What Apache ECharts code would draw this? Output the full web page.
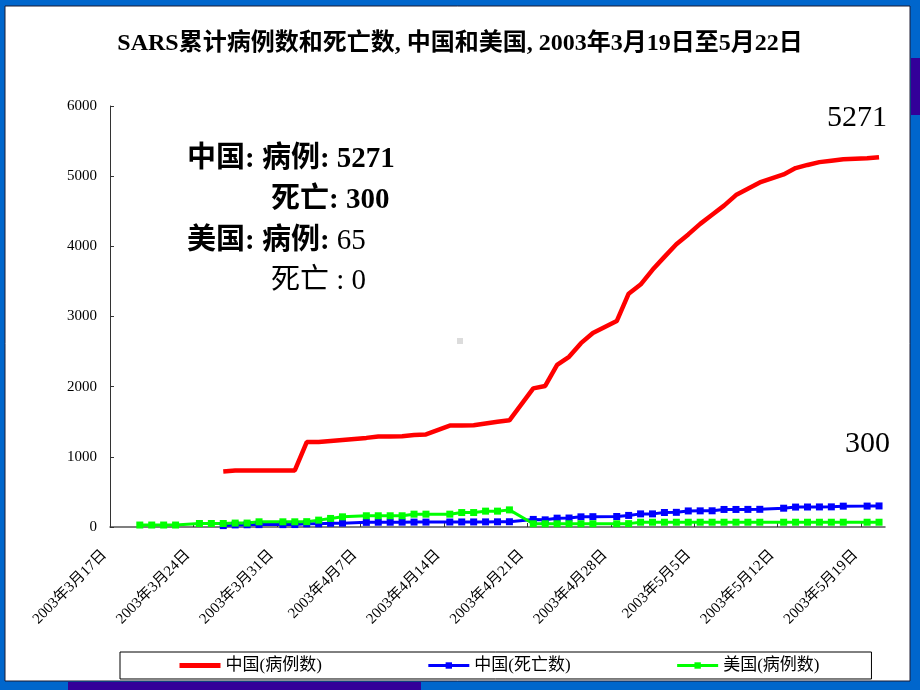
<!DOCTYPE html>
<html>
<head>
<meta charset="utf-8">
<title>SARS累计病例数和死亡数</title>
<script src="https://cdn.jsdelivr.net/npm/echarts@6/dist/echarts.min.js"></script>
<style>
  html, body { margin: 0; padding: 0; background: #0066cc; }
  #chart { width: 920px; height: 690px; }
</style>
</head>
<body>
<div id="chart"></div>
<script>
  // 类目: 2003年3月17日起每天一个
  const startDay = Date.UTC(2003, 2, 17);
  const dayCount = 65;
  const days = [];
  for (let i = 0; i < dayCount; i++) {
    const d = new Date(startDay + i * 86400000);
    days.push(d.getUTCFullYear() + '年' + (d.getUTCMonth() + 1) + '月' + d.getUTCDate() + '日');
  }

  const seriesNames = ['中国(病例数)', '中国(死亡数)', '美国(病例数)'];

  // 每行一周(周一至周日), 周日多无报告
  const chinaCases = [
    null, null, null, null, null, null, null,
    null, null, 792, 806, 806, 806, null,
    806, 806, 1210, 1210, 1225, 1240, null,
    1270, 1290, 1290, 1295, 1310, 1320, null,
    1445, 1445, 1450, 1475, 1500, 1520, null,
    1975, 2010, 2310, 2425, 2620, 2765, null,
    2935, 3325, 3455, 3665, 3850, 4030, 4170,
    4320, 4450, 4580, 4730, 4820, 4910, null,
    5025, 5115, 5160, 5200, 5220, 5240, null,
    5255, 5271
  ];
  const chinaDeaths = [
    null, null, null, null, null, null, null,
    null, null, 20, 30, 32, 34, null,
    34, 35, 46, 46, 53, 55, null,
    66, 68, 68, 69, 70, 70, null,
    71, 72, 72, 73, 74, 75, null,
    108, 102, 126, 128, 145, 147, null,
    150, 165, 187, 187, 207, 209, 229,
    230, 231, 250, 250, 251, 252, null,
    268, 284, 285, 286, 287, 297, null,
    298, 300
  ];
  const usCases = [
    null, null, 28, 28, 28, 28, null,
    50, 50, 50, 56, 56, 74, null,
    74, 74, 76, 98, 122, 145, null,
    160, 160, 160, 160, 183, 183, null,
    183, 206, 206, 226, 226, 244, null,
    46, 46, 46, 46, 46, 46, null,
    46, 48, 68, 68, 68, 68, 68,
    68, 68, 68, 68, 68, 68, null,
    68, 68, 68, 68, 68, 68, null,
    68, 68
  ];

  const weekTicks = days.map((d, i) => i).filter(i => i % 7 === 0);

  const serif = "'Liberation Serif', 'Noto Sans CJK SC', serif";
  const bold = { fontSize: 29, fontWeight: 'bold', fontFamily: serif, fill: '#000' };
  const plain = { fontSize: 29, fontFamily: serif, fill: '#000' };

  let myChart = echarts.init(document.getElementById('chart'));
  myChart.setOption({
    animation: false,
    backgroundColor: '#0066cc',
    title: {
      text: 'SARS累计病例数和死亡数, 中国和美国, 2003年3月19日至5月22日',
      left: 'center',
      top: 27,
      textStyle: {
        fontFamily: serif,
        fontSize: 24,
        fontWeight: 'bold',
        color: '#000'
      }
    },
    legend: {
      data: [
        { name: seriesNames[0], itemStyle: { opacity: 0 }, lineStyle: { width: 5 } },
        { name: seriesNames[1], lineStyle: { width: 3 } },
        { name: seriesNames[2], lineStyle: { width: 3 } }
      ],
      left: 120,
      top: 652,
      padding: [5, 52, 5, 57],
      itemGap: 105,
      itemWidth: 41,
      itemHeight: 8,
      backgroundColor: '#fff',
      borderColor: '#000',
      borderWidth: 1,
      textStyle: { fontSize: 17, color: '#000', fontFamily: serif }
    },
    grid: {
      left: 110,
      right: 35,
      top: 106,
      bottom: 163
    },
    xAxis: [
      {
        type: 'category',
        data: days,
        boundaryGap: true,
        axisLine: { show: false },
        axisTick: { show: false },
        axisLabel: { show: false }
      },
      {
        type: 'value',
        position: 'bottom',
        min: 0,
        max: dayCount,
        interval: 7,
        splitLine: { show: false },
        axisLine: { show: true, lineStyle: { color: '#555', width: 1.5 } },
        axisTick: {
          show: true,
          inside: true,
          length: 4,
          customValues: weekTicks,
          lineStyle: { color: '#333' }
        },
        axisLabel: {
          rotate: 45,
          margin: 20,
          padding: [0, 8, 0, 0],
          customValues: weekTicks,
          formatter: v => days[v],
          fontFamily: serif,
          fontSize: 15,
          color: '#000'
        }
      }
    ],
    yAxis: {
      type: 'value',
      min: 0,
      max: 6000,
      interval: 1000,
      splitLine: { show: false },
      axisLine: { show: true, lineStyle: { color: '#333' } },
      axisTick: { show: true, inside: true, length: 4, lineStyle: { color: '#333' } },
      axisLabel: {
        margin: 13,
        formatter: v => String(v),
        fontFamily: serif,
        fontSize: 15,
        color: '#000'
      }
    },
    series: [
      {
        name: seriesNames[0],
        type: 'line',
        xAxisIndex: 0,
        data: chinaCases,
        connectNulls: true,
        symbol: 'none',
        color: '#ff0000',
        lineStyle: { width: 4.5, color: '#ff0000' }
      },
      {
        name: seriesNames[1],
        type: 'line',
        xAxisIndex: 0,
        data: chinaDeaths,
        connectNulls: true,
        symbol: 'rect',
        symbolSize: 7,
        color: '#0000ff',
        lineStyle: { width: 3, color: '#0000ff' }
      },
      {
        name: seriesNames[2],
        type: 'line',
        xAxisIndex: 0,
        data: usCases,
        connectNulls: true,
        symbol: 'rect',
        symbolSize: 7,
        color: '#00ff00',
        lineStyle: { width: 3, color: '#00ff00' }
      }
    ],
    graphic: [
      // 白色幻灯片底板和装饰条
      { type: 'rect', z: -10, shape: { x: 5, y: 6, width: 905, height: 675 },
        style: { fill: '#fff', stroke: '#1a1a33', lineWidth: 1 } },
      { type: 'rect', z: -10, shape: { x: 911, y: 58, width: 9, height: 57 }, style: { fill: '#330099' } },
      { type: 'rect', z: -10, shape: { x: 68, y: 682, width: 353, height: 8 }, style: { fill: '#330099' } },
      { type: 'rect', z: -5, shape: { x: 457, y: 338, width: 6, height: 6 }, style: { fill: '#dcdcdc' } },
      // 注释文字
      { type: 'text', left: 187, top: 145, style: {
          text: '{b|中国: 病例: 5271}', rich: { b: bold }
        } },
      { type: 'text', left: 271, top: 186, style: {
          text: '{b|死亡: 300}', rich: { b: bold }
        } },
      { type: 'text', left: 187, top: 227, style: {
          text: '{b|美国: 病例: }{n|65}', rich: { b: bold, n: plain }
        } },
      { type: 'text', left: 271, top: 267, style: {
          text: '{n|死亡 : 0}', rich: { n: plain }
        } },
      { type: 'text', left: 827, top: 103, style: {
          text: '5271', font: "30px 'Liberation Serif', serif", fill: '#000'
        } },
      { type: 'text', left: 845, top: 429, style: {
          text: '300', font: "30px 'Liberation Serif', serif", fill: '#000'
        } }
    ]
  });
</script>
</body>
</html>
